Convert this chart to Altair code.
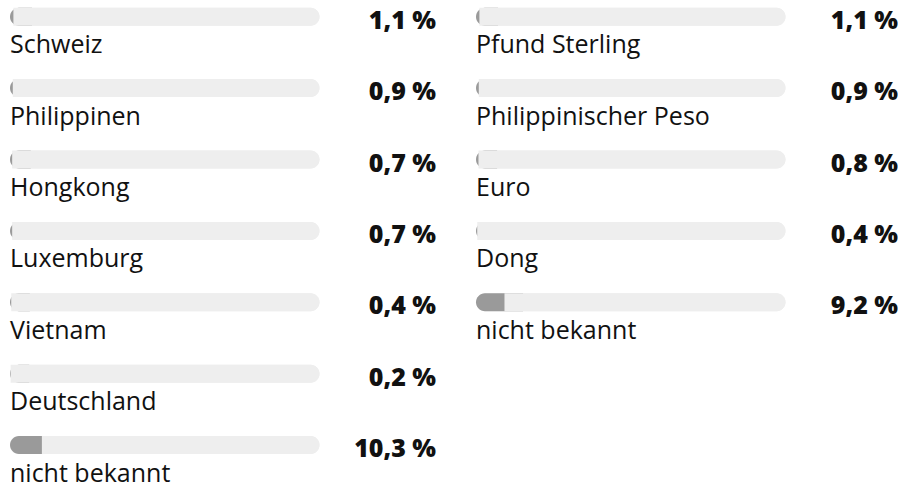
import altair as alt
import pandas as pd

left_labels = ["Schweiz", "Philippinen", "Hongkong", "Luxemburg", "Vietnam", "Deutschland", "nicht bekannt"]
left_values = [1.1, 0.9, 0.7, 0.7, 0.4, 0.2, 10.3]
right_labels = ["Pfund Sterling", "Philippinischer Peso", "Euro", "Dong", "nicht bekannt"]
right_values = [1.1, 0.9, 0.8, 0.4, 9.2]

TRACK = "#eeeeee"
FILL = "#9a9a9a"
TEXT = "#111111"
FONT = "Open Sans"
ROW_STEP = 71.4
FIRST = 16.7
H = 470
TRACK_PX = 309.5


def panel(labels, values, width):
    df = pd.DataFrame({"row": list(range(len(labels))), "label": labels, "value": values})
    x_max = 100 * width / TRACK_PX
    xs = alt.Scale(domain=[0, x_max], nice=False, zero=True)
    ys = alt.Scale(domain=[-FIRST / ROW_STEP, (H - FIRST) / ROW_STEP], reverse=True,
                   nice=False, zero=False, padding=0)
    y = alt.Y("row:Q", scale=ys, axis=None)
    x_lo = alt.X("lo:Q", scale=xs, axis=None)
    base = alt.Chart(df).transform_calculate(
        lo="0",
        hi="100",
        cap="datum.value + 6",
        txt="replace(format(datum.value, '.1f'), '.', ',') + ' %'",
    )
    # full light track
    track = base.mark_bar(orient="horizontal", height=18, cornerRadius=9, color=TRACK).encode(
        x=x_lo, x2=alt.X2("hi"), y=y
    )
    # dark fill (rounded start), its overhang is covered by the remainder
    fill = base.mark_bar(
        orient="horizontal", height=18, cornerRadiusTopLeft=9, cornerRadiusBottomLeft=9, color=FILL
    ).encode(x=x_lo, x2=alt.X2("cap"), y=y)
    # light remainder from the value to the end
    rest = base.mark_bar(
        orient="horizontal", height=18, cornerRadiusTopRight=9, cornerRadiusBottomRight=9, color=TRACK
    ).encode(x=alt.X("value:Q", scale=xs, axis=None), x2=alt.X2("hi"), y=y)
    label = base.mark_text(
        align="left", baseline="alphabetic", dy=36.5, fontSize=25, font=FONT, color=TEXT
    ).encode(x=alt.value(0), y=y, text="label:N")
    val = base.mark_text(
        align="right", baseline="alphabetic", dy=12, fontSize=25, font=FONT, fontWeight=800, color=TEXT
    ).encode(x=alt.value(width), y=y, text="txt:N")
    return alt.layer(track, fill, rest, label, val).properties(width=width, height=H)


chart = (
    alt.hconcat(panel(left_labels, left_values, 426), panel(right_labels, right_values, 422), spacing=40)
    .properties(padding={"left": 10, "top": 0, "right": 0, "bottom": 0})
    .configure_view(stroke=None)
)

chart.save("out.html", embed_options={"renderer": "svg", "actions": False})
